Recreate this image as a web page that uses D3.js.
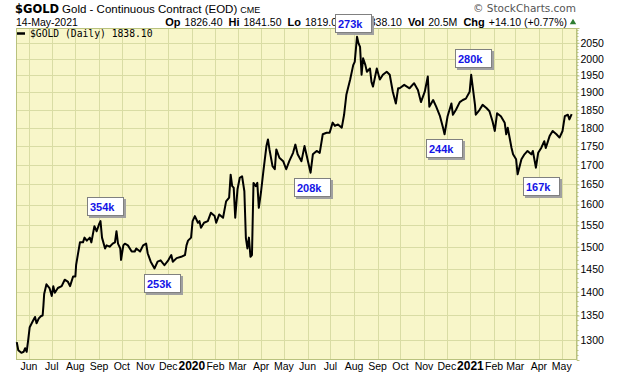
<!DOCTYPE html>
<html>
<head>
<meta charset="utf-8">
<script src="https://d3js.org/d3.v7.min.js"></script>
<style>
  body { margin: 0; background: #fff; }
  svg { display: block; }
</style>
</head>
<body>
<div id="chart"></div>
<script>
// daily closes
var dates = [
  '2019-05-16','2019-05-18','2019-05-22','2019-05-25','2019-05-27','2019-05-29','2019-05-31',
  '2019-06-02','2019-06-06','2019-06-09','2019-06-11','2019-06-14','2019-06-17','2019-06-19',
  '2019-06-20','2019-06-21','2019-06-24','2019-06-28','2019-07-01','2019-07-03','2019-07-05',
  '2019-07-09','2019-07-14','2019-07-18','2019-07-22','2019-07-25','2019-07-29','2019-08-01',
  '2019-08-02','2019-08-07','2019-08-11','2019-08-13','2019-08-16','2019-08-20','2019-08-22',
  '2019-08-26','2019-08-29','2019-09-01','2019-09-03','2019-09-05','2019-09-09','2019-09-11',
  '2019-09-15','2019-09-19','2019-09-22','2019-09-24','2019-09-26','2019-09-29','2019-09-30',
  '2019-10-03','2019-10-05','2019-10-09','2019-10-14','2019-10-18','2019-10-20','2019-10-25',
  '2019-10-29','2019-11-02','2019-11-04','2019-11-08','2019-11-13','2019-11-17','2019-11-21',
  '2019-11-26','2019-12-01','2019-12-05','2019-12-07','2019-12-12','2019-12-18','2019-12-23',
  '2019-12-25','2019-12-27','2019-12-31','2020-01-02','2020-01-05','2020-01-09','2020-01-11',
  '2020-01-13','2020-01-17','2020-01-22','2020-01-26','2020-01-31','2020-02-02','2020-02-06',
  '2020-02-11','2020-02-15','2020-02-19','2020-02-21','2020-02-23','2020-02-25','2020-02-27',
  '2020-03-01','2020-03-04','2020-03-07','2020-03-10','2020-03-12','2020-03-14','2020-03-16',
  '2020-03-18','2020-03-20','2020-03-22','2020-03-25','2020-03-27','2020-03-29','2020-04-01',
  '2020-04-04','2020-04-08','2020-04-10','2020-04-12','2020-04-16','2020-04-19','2020-04-21',
  '2020-04-25','2020-04-30','2020-05-04','2020-05-08','2020-05-13','2020-05-16','2020-05-19',
  '2020-05-24','2020-05-28','2020-06-02','2020-06-05','2020-06-08','2020-06-13','2020-06-17',
  '2020-06-21','2020-06-26','2020-06-30','2020-07-04','2020-07-07','2020-07-11','2020-07-16',
  '2020-07-19','2020-07-22','2020-07-27','2020-07-31','2020-08-02','2020-08-05','2020-08-07',
  '2020-08-09','2020-08-11','2020-08-13','2020-08-16','2020-08-18','2020-08-22','2020-08-24',
  '2020-08-26','2020-08-31','2020-09-04','2020-09-08','2020-09-13','2020-09-17','2020-09-21',
  '2020-09-25','2020-09-28','2020-09-30','2020-10-06','2020-10-13','2020-10-19','2020-10-24',
  '2020-10-28','2020-11-02','2020-11-06','2020-11-08','2020-11-13','2020-11-17','2020-11-22',
  '2020-11-26','2020-11-28','2020-12-02','2020-12-07','2020-12-09','2020-12-13','2020-12-18',
  '2020-12-22','2020-12-26','2020-12-31','2021-01-02','2021-01-07','2021-01-08','2021-01-13',
  '2021-01-17','2021-01-22','2021-01-26','2021-01-30','2021-02-02','2021-02-05','2021-02-10',
  '2021-02-15','2021-02-17','2021-02-19','2021-02-24','2021-02-26','2021-03-02','2021-03-04',
  '2021-03-09','2021-03-13','2021-03-17','2021-03-22','2021-03-24','2021-03-28','2021-03-31',
  '2021-04-04','2021-04-08','2021-04-10','2021-04-15','2021-04-19','2021-04-24','2021-04-28',
  '2021-05-02','2021-05-05','2021-05-09','2021-05-11','2021-05-14'
];
var closes = [
  1296,1280,1275,1277,1284,1277,1300,
  1326,1338,1347,1334,1344,1349,1350,
  1370,1395,1416,1408,1391,1412,1398,
  1408,1412,1426,1422,1412,1433,1433,
  1459,1510,1510,1521,1514,1521,1510,
  1548,1536,1552,1560,1521,1496,1503,
  1500,1507,1510,1536,1507,1496,1470,
  1503,1507,1503,1489,1489,1496,1489,
  1503,1507,1485,1466,1451,1466,1469,
  1458,1469,1481,1466,1474,1477,1481,
  1503,1514,1521,1560,1572,1556,1560,
  1544,1556,1560,1580,1572,1556,1576,
  1568,1608,1617,1675,1646,1642,1568,
  1638,1667,1671,1633,1520,1496,1521,
  1477,1481,1654,1646,1654,1592,1633,
  1684,1750,1768,1741,1697,1689,1741,
  1719,1710,1689,1710,1732,1754,1728,
  1710,1750,1706,1680,1728,1737,1732,
  1782,1786,1786,1814,1805,1809,1800,
  1836,1893,1938,1981,1991,2069,2048,
  2037,1952,2002,1981,1961,1971,1931,
  1917,1971,1938,1952,1961,1952,1902,
  1868,1912,1912,1922,1912,1927,1907,
  1872,1902,1947,1859,1878,1859,1832,
  1800,1782,1832,1868,1836,1850,1872,
  1878,1882,1902,1952,1864,1836,1850,
  1864,1855,1846,1818,1791,1840,1832,
  1814,1782,1800,1745,1728,1715,1676,
  1715,1728,1737,1728,1737,1693,1732,
  1745,1763,1745,1777,1791,1782,1773,
  1791,1832,1836,1823,1838.1
];

var yTicks = [1300,1350,1400,1450,1500,1550,1600,1650,1700,1750,1800,1850,1900,1950,2000,2050];

// volume call-outs
var volLabels = ['354k','253k','208k','273k','280k','244k','167k'];
var volDates  = ['2019-09-09','2019-11-23','2020-06-08','2020-08-01','2021-01-05','2020-11-28','2021-04-04'];
var volPrices = [1596,1418,1643,2110,2000,1743,1644];

var W = 620, H = 376;
var plot = {left: 16, right: 577, top: 28, bottom: 360};
var parse = d3.timeParse('%Y-%m-%d');

var svg = d3.select('#chart').append('svg')
    .attr('width', W)
    .attr('height', H)
    .style('font-family', '"Liberation Sans", Arial, sans-serif');

var x = d3.scaleTime()
    .domain([parse('2019-05-15'), parse('2021-05-21')])
    .range([plot.left, plot.right]);

var y = d3.scaleLog()
    .domain([1261, 2097])
    .range([plot.bottom, plot.top]);

var series = dates.map(function(d, i) { return {date: parse(d), close: closes[i]}; });

// background
svg.append('rect')
    .attr('x', plot.left).attr('y', plot.top)
    .attr('width', plot.right - plot.left).attr('height', plot.bottom - plot.top)
    .attr('fill', '#f8f6c9');

// grid
var months = d3.timeMonth.range(parse('2019-06-01'), parse('2021-05-21'));
svg.append('g').selectAll('line').data(months).enter().append('line')
    .attr('x1', function(d) { return Math.round(x(d)) + 0.5; })
    .attr('x2', function(d) { return Math.round(x(d)) + 0.5; })
    .attr('y1', plot.top).attr('y2', plot.bottom)
    .attr('stroke', '#d9dca4').attr('stroke-width', 1);

svg.append('g').selectAll('line').data(yTicks).enter().append('line')
    .attr('x1', plot.left).attr('x2', plot.right)
    .attr('y1', function(d) { return Math.round(y(d)) + 0.5; })
    .attr('y2', function(d) { return Math.round(y(d)) + 0.5; })
    .attr('stroke', '#d9dca4').attr('stroke-width', 1);

// border
svg.append('rect')
    .attr('x', plot.left + 0.5).attr('y', plot.top + 0.5)
    .attr('width', plot.right - plot.left - 1).attr('height', plot.bottom - plot.top - 1)
    .attr('fill', 'none').attr('stroke', '#b9c27e');

// right axis
var yAxis = d3.axisRight(y)
    .tickValues(yTicks)
    .tickSize(3)
    .tickPadding(1)
    .tickFormat(d3.format('d'));
var ya = svg.append('g')
    .attr('transform', 'translate(' + (plot.right - 0.5) + ',0)')
    .call(yAxis);
ya.select('.domain').attr('stroke', '#b9c27e');
ya.selectAll('.tick line').attr('stroke', '#b9c27e');
ya.selectAll('.tick text')
    .attr('fill', '#000')
    .style('font-size', '10.5px')
    .style('font-family', '"Liberation Sans", Arial, sans-serif');

// minor ticks on the price axis
var minor = d3.range(1270, 2100, 10);
svg.append('g').selectAll('line').data(minor).enter().append('line')
    .attr('x1', plot.right).attr('x2', plot.right + 1.5)
    .attr('y1', function(d) { return Math.round(y(d)) + 0.5; })
    .attr('y2', function(d) { return Math.round(y(d)) + 0.5; })
    .attr('stroke', '#b9c27e');

// month labels
svg.append('g').selectAll('text').data(months).enter().append('text')
    .attr('x', function(d) { return x(d); })
    .attr('y', 370)
    .attr('text-anchor', 'middle')
    .style('font-size', function(d) { return d.getMonth() === 0 ? '12px' : '10.5px'; })
    .style('font-weight', function(d) { return d.getMonth() === 0 ? 'bold' : 'normal'; })
    .text(function(d) { return d.getMonth() === 0 ? d3.timeFormat('%Y')(d) : d3.timeFormat('%b')(d); });

// price line
var line = d3.line()
    .x(function(d) { return x(d.date); })
    .y(function(d) { return y(d.close); });

svg.append('path')
    .datum(series)
    .attr('fill', 'none')
    .attr('stroke', '#000')
    .attr('stroke-width', 2)
    .attr('stroke-linejoin', 'round')
    .attr('d', line);

// legend
svg.append('line')
    .attr('x1', 17).attr('x2', 25).attr('y1', 33.5).attr('y2', 33.5)
    .attr('stroke', '#000').attr('stroke-width', 2.5);
svg.append('text')
    .attr('x', 30).attr('y', 37)
    .style('font-family', '"DejaVu Sans Mono", monospace')
    .style('font-size', '9.7px')
    .text('$GOLD (Daily) 1838.10');

// header
var h1 = svg.append('text').attr('x', 15).attr('y', 13);
h1.append('tspan').style('font-family', '"DejaVu Sans", Verdana, sans-serif')
    .style('font-weight', 'bold').style('font-size', '11.5px').text('$GOLD');
h1.append('tspan').attr('dx', 3).style('font-size', '11.5px').text('Gold - Continuous Contract (EOD)');
h1.append('tspan').attr('dx', 3).style('font-size', '9px').text('CME');

svg.append('text').attr('x', 16).attr('y', 26).style('font-size', '10.5px').text('14-May-2021');

// quote line; the 273k call-out sits over part of it, as on the original
var quote = [['Op', '1826.40'], ['Hi', '1841.50'], ['Lo', '1819.00'], ['Cl', '1838.10'],
             ['Vol', '20.5M'], ['Chg', '+14.10 (+0.77%)']];
var q = svg.append('text').attr('x', 567).attr('y', 26)
    .attr('text-anchor', 'end').style('font-size', '10.5px');
quote.forEach(function(p, i) {
  q.append('tspan').attr('dx', i ? 6 : 0).style('font-weight', 'bold')
      .style('font-size', '11px').text(p[0]);
  q.append('tspan').attr('dx', 4).text(p[1]);
});
svg.append('path')
    .attr('d', d3.symbol().type(d3.symbolTriangle).size(18)())
    .attr('transform', 'translate(573,22.5)')
    .attr('fill', '#2e7d32');

svg.append('text').attr('x', 576).attr('y', 12).attr('text-anchor', 'end')
    .style('font-family', '"DejaVu Sans", Verdana, sans-serif')
    .style('font-size', '10.5px').attr('fill', '#555')
    .text('\u00A9 StockCharts.com');

// call-out boxes
var bw = 37, bh = 19;
var boxes = svg.append('g').selectAll('g').data(volLabels).enter().append('g')
    .attr('transform', function(d, i) {
      var cx = x(parse(volDates[i])), cy = y(volPrices[i]);
      return 'translate(' + Math.round(cx - bw / 2) + ',' + Math.round(cy - bh / 2) + ')';
    });
boxes.append('rect')
    .attr('x', 2).attr('y', 2).attr('width', bw).attr('height', bh)
    .attr('fill', '#a0a0a0');
boxes.append('rect')
    .attr('x', 0.5).attr('y', 0.5).attr('width', bw - 1).attr('height', bh - 1)
    .attr('fill', '#fff').attr('stroke', '#808080');
boxes.append('text')
    .attr('x', 3).attr('y', 13.5)
    .style('font-size', '11px').style('font-weight', 'bold')
    .attr('fill', '#1414e6')
    .text(function(d) { return d; });
</script>
</body>
</html>
